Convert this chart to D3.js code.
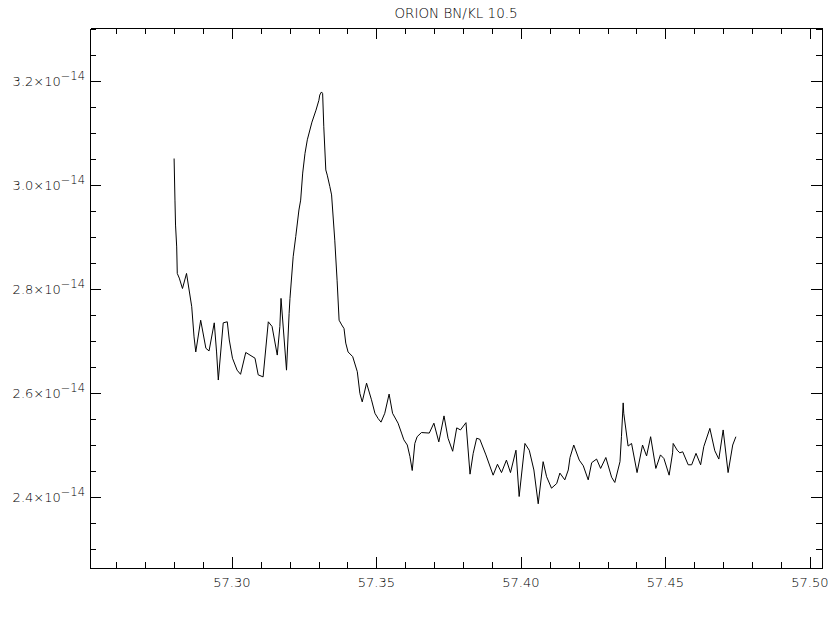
<!DOCTYPE html>
<html>
<head>
<meta charset="utf-8">
<script src="https://cdn.jsdelivr.net/npm/d3@7"></script>
<style>
  body { margin: 0; background: #fff; }
  svg { display: block; }
  .axis path, .axis line { stroke: #000; stroke-width: 1; shape-rendering: crispEdges; }
  text { font-family: "DejaVu Sans", sans-serif; font-weight: 200; fill: #000; }
</style>
</head>
<body>
<div id="chart"></div>
<script>
// frequency (GHz) and flux (units of 1e-14)
const freq = [
  57.2800, 57.2803, 57.2805, 57.2809, 57.2811, 57.2818, 57.2829, 57.2843, 57.2861, 57.2869,
  57.2875, 57.2892, 57.2910, 57.2921, 57.2939, 57.2947, 57.2953, 57.2970, 57.2984, 57.2991,
  57.3002, 57.3018, 57.3030, 57.3048, 57.3080, 57.3091, 57.3108, 57.3126, 57.3139, 57.3157,
  57.3166, 57.3170, 57.3189, 57.3198, 57.3201, 57.3212, 57.3221, 57.3232, 57.3238, 57.3245,
  57.3253, 57.3261, 57.3277, 57.3291, 57.3301, 57.3304, 57.3310, 57.3314, 57.3318, 57.3325,
  57.3330, 57.3339, 57.3345, 57.3356, 57.3364, 57.3371, 57.3380, 57.3388, 57.3394, 57.3402,
  57.3418, 57.3434, 57.3443, 57.3451, 57.3466, 57.3483, 57.3495, 57.3506, 57.3516, 57.3529,
  57.3544, 57.3556, 57.3575, 57.3587, 57.3595, 57.3607, 57.3616, 57.3624, 57.3633, 57.3641,
  57.3656, 57.3683, 57.3699, 57.3716, 57.3734, 57.3748, 57.3764, 57.3778, 57.3791, 57.3810,
  57.3824, 57.3835, 57.3847, 57.3858, 57.3879, 57.3904, 57.3919, 57.3933, 57.3950, 57.3964,
  57.3983, 57.3994, 57.4014, 57.4029, 57.4045, 57.4060, 57.4077, 57.4089, 57.4106, 57.4124,
  57.4135, 57.4152, 57.4164, 57.4170, 57.4183, 57.4202, 57.4216, 57.4233, 57.4245, 57.4262,
  57.4276, 57.4294, 57.4314, 57.4325, 57.4343, 57.4348, 57.4354, 57.4356, 57.4371, 57.4383,
  57.4402, 57.4421, 57.4435, 57.4449, 57.4467, 57.4483, 57.4495, 57.4513, 57.4525, 57.4527,
  57.4541, 57.4550, 57.4560, 57.4579, 57.4591, 57.4606, 57.4622, 57.4633, 57.4654, 57.4671,
  57.4685, 57.4700, 57.4717, 57.4733, 57.4744
];
const flux = [
  3.051, 2.971, 2.923, 2.881, 2.830, 2.821, 2.801, 2.830, 2.766, 2.708,
  2.679, 2.740, 2.686, 2.681, 2.735, 2.679, 2.625, 2.735, 2.737, 2.702,
  2.667, 2.644, 2.636, 2.678, 2.667, 2.635, 2.631, 2.737, 2.728, 2.673,
  2.728, 2.782, 2.644, 2.753, 2.782, 2.862, 2.901, 2.952, 2.971, 3.023,
  3.061, 3.087, 3.121, 3.144, 3.163, 3.173, 3.179, 3.176, 3.112, 3.029,
  3.019, 2.997, 2.981, 2.894, 2.817, 2.740, 2.731, 2.724, 2.696, 2.679,
  2.670, 2.641, 2.599, 2.583, 2.619, 2.587, 2.561, 2.551, 2.544, 2.561,
  2.598, 2.561, 2.542, 2.523, 2.510, 2.500, 2.478, 2.451, 2.503, 2.516,
  2.524, 2.523, 2.542, 2.506, 2.556, 2.513, 2.488, 2.533, 2.529, 2.543,
  2.444, 2.484, 2.513, 2.511, 2.481, 2.442, 2.463, 2.447, 2.471, 2.447,
  2.490, 2.401, 2.503, 2.490, 2.452, 2.387, 2.468, 2.439, 2.417, 2.426,
  2.446, 2.433, 2.452, 2.476, 2.500, 2.471, 2.460, 2.433, 2.466, 2.473,
  2.455, 2.476, 2.438, 2.428, 2.468, 2.516, 2.581, 2.561, 2.498, 2.503,
  2.447, 2.500, 2.479, 2.516, 2.455, 2.481, 2.474, 2.442, 2.485, 2.503,
  2.490, 2.485, 2.487, 2.462, 2.462, 2.484, 2.462, 2.497, 2.532, 2.489,
  2.473, 2.529, 2.447, 2.500, 2.516
];

const xTicks = [57.30, 57.35, 57.40, 57.45, 57.50];
const xLabels = ["57.30", "57.35", "57.40", "57.45", "57.50"];
const xMinor = d3.range(57.26, 57.495, 0.01).map(v => +v.toFixed(2)).filter(v => !xTicks.includes(v));
const yTicks = [2.4, 2.6, 2.8, 3.0, 3.2];
const yLabels = ["2.4", "2.6", "2.8", "3.0", "3.2"];
const yMinor = d3.range(2.30, 3.31, 0.05).map(v => +v.toFixed(2)).filter(v => !yTicks.includes(v));
const title = "ORION BN/KL 10.5";

const width = 829;
const height = 619;
const margin = { top: 28, right: 7, bottom: 51, left: 90 };

const x = d3.scaleLinear()
  .domain([57.2509, 57.5042])
  .range([margin.left, width - margin.right]);

const y = d3.scaleLinear()
  .domain([2.2635, 3.302])
  .range([height - margin.bottom, margin.top]);

const svg = d3.select("#chart")
  .append("svg")
  .attr("width", width)
  .attr("height", height);

svg.append("rect")
  .attr("width", width)
  .attr("height", height)
  .attr("fill", "#fff");

const plotBottom = height - margin.bottom;
const plotRight = width - margin.right;

// helper: draw one axis with inward ticks
function drawAxis(gen, transform, values, size) {
  const g = svg.append("g")
    .attr("class", "axis")
    .attr("transform", transform)
    .call(gen.tickValues(values).tickSize(-size).tickSizeOuter(0).tickFormat(""));
  return g;
}

// bottom / top
drawAxis(d3.axisBottom(x), `translate(0,${plotBottom})`, xTicks, 11);
drawAxis(d3.axisBottom(x), `translate(0,${plotBottom})`, xMinor, 6).select(".domain").remove();
drawAxis(d3.axisTop(x), `translate(0,${margin.top})`, xTicks, 11);
drawAxis(d3.axisTop(x), `translate(0,${margin.top})`, xMinor, 6).select(".domain").remove();

// left / right
drawAxis(d3.axisLeft(y), `translate(${margin.left},0)`, yTicks, 11);
drawAxis(d3.axisLeft(y), `translate(${margin.left},0)`, yMinor, 6).select(".domain").remove();
drawAxis(d3.axisRight(y), `translate(${plotRight},0)`, yTicks, 11);
drawAxis(d3.axisRight(y), `translate(${plotRight},0)`, yMinor, 6).select(".domain").remove();

// x labels
svg.append("g")
  .selectAll("text")
  .data(xTicks)
  .join("text")
  .attr("x", d => x(d))
  .attr("y", plotBottom + 19)
  .attr("text-anchor", "middle")
  .style("font-size", "13px")
  .text((d, i) => xLabels[i]);

// y labels with exponent
const yl = svg.append("g")
  .selectAll("text")
  .data(yTicks)
  .join("text")
  .attr("x", margin.left - 5)
  .attr("y", d => y(d) + 5)
  .attr("text-anchor", "end")
  .style("font-size", "13px");
yl.append("tspan").text((d, i) => yLabels[i] + "\u00d710");
yl.append("tspan")
  .attr("dy", -6)
  .style("font-size", "11.5px")
  .text("\u221214");

// title
svg.append("text")
  .attr("x", (margin.left + plotRight) / 2)
  .attr("y", 18)
  .attr("text-anchor", "middle")
  .style("font-size", "13.5px")
  .text(title);

// spectrum
const line = d3.line()
  .x((d, i) => x(freq[i]))
  .y(d => y(d));

svg.append("path")
  .datum(flux)
  .attr("fill", "none")
  .attr("stroke", "#000")
  .attr("stroke-width", 1)
  .attr("d", line);
</script>
</body>
</html>
